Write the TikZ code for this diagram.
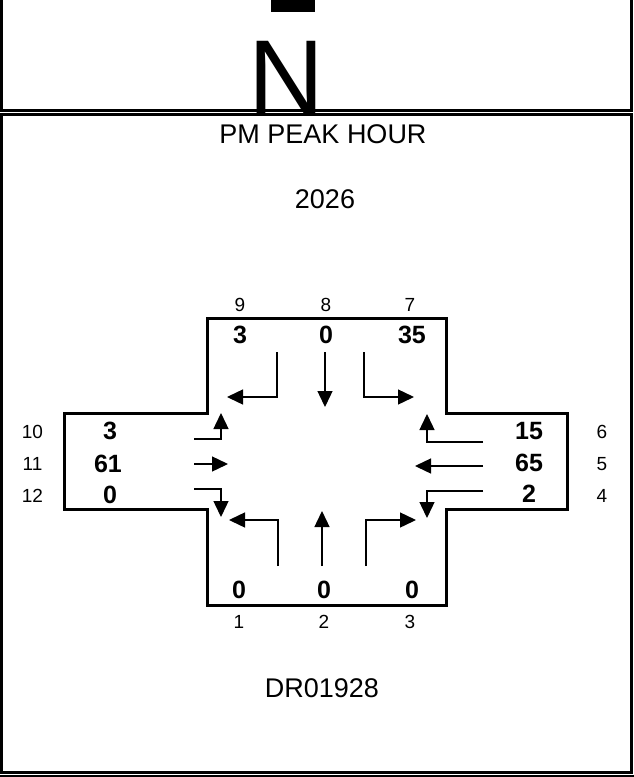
\documentclass[tikz,border=0pt]{standalone}
\usepackage{fontspec}
\setmainfont{Liberation Sans}
\usetikzlibrary{arrows.meta}
\tikzset{
  frame/.style={draw=black,line width=3pt},
  road/.style={draw=black,line width=3pt,line join=miter},
  mvt/.style={-{Triangle[length=16pt,width=15pt]},line width=1.4pt,line join=miter},
  lbl/.style={font=\fontsize{19}{19}\selectfont,anchor=base,inner sep=0pt},
  vol/.style={font=\fontsize{25}{25}\selectfont\bfseries,anchor=base,inner sep=0pt},
  title/.style={font=\fontsize{27}{27}\selectfont,anchor=base,inner sep=0pt}
}
\begin{document}
\begin{tikzpicture}[x=1pt,y=-1pt]
  \useasboundingbox (0,0) rectangle (634,777);
  % north arrow
  \fill (271,-2) rectangle (315,12);
  \node[anchor=base,inner sep=0pt,font=\fontsize{105}{105}\selectfont] (north) at (286,113) {N};
  \draw[frame] (1.5,-3) -- (1.5,110.5) -- (631.5,110.5) -- (631.5,-3);
  \draw[frame,fill=white] (1.5,114.5) rectangle (631.5,772);
  \draw[line width=2pt] (0,775.5) -- (634,775.5);

  \node[title] (peak) at (323,143) {PM PEAK HOUR};
  \node[title] (year) at (325,208) {2026};
  \node[title] (job) at (322,697) {DR01928};

  % intersection
  \draw[road] (207,318) -- (446,318) -- (446,413.5) -- (567,413.5) -- (567,509)
    -- (446,509) -- (446,605) -- (207,605) -- (207,509) -- (64.5,509)
    -- (64.5,413.5) -- (207,413.5) -- cycle;

  % movement numbers
  \node[lbl] (m9) at (240,311) {9};
  \node[lbl] (m8) at (326,311) {8};
  \node[lbl] (m7) at (410,311) {7};
  \node[lbl] (m10) at (32.5,438) {10};
  \node[lbl] (m11) at (32.5,470) {11};
  \node[lbl] (m12) at (32.5,502) {12};
  \node[lbl] (m6) at (602,438) {6};
  \node[lbl] (m5) at (602,470) {5};
  \node[lbl] (m4) at (602,502) {4};
  \node[lbl] (m1) at (239,628) {1};
  \node[lbl] (m2) at (324,628) {2};
  \node[lbl] (m3) at (410,628) {3};

  % volumes
  \node[vol] (v9) at (240,343) {3};
  \node[vol] (v8) at (326,343) {0};
  \node[vol] (v7) at (412,343) {35};
  \node[vol] (v10) at (110,439) {3};
  \node[vol] (v11) at (108,472) {61};
  \node[vol] (v12) at (110,503) {0};
  \node[vol] (v6) at (529,439) {15};
  \node[vol] (v5) at (529,471) {65};
  \node[vol] (v4) at (529,502) {2};
  \node[vol] (v1) at (239,598) {0};
  \node[vol] (v2) at (324,598) {0};
  \node[vol] (v3) at (412,598) {0};

  % southbound
  \draw[mvt] (277,352) -- (277,397) -- (227,397);
  \draw[mvt] (325,352) -- (325,407);
  \draw[mvt] (364,352) -- (364,397) -- (414,397);
  % eastbound
  \draw[mvt] (194,439) -- (221,439) -- (221,413);
  \draw[mvt] (194,464) -- (228,464);
  \draw[mvt] (194,489) -- (221,489) -- (221,517);
  % westbound
  \draw[mvt] (483,442) -- (427,442) -- (427,414);
  \draw[mvt] (483,466) -- (415,466);
  \draw[mvt] (483,491) -- (427,491) -- (427,518);
  % northbound
  \draw[mvt] (278,566) -- (278,520) -- (229,520);
  \draw[mvt] (322,566) -- (322,511);
  \draw[mvt] (366,566) -- (366,520) -- (416,520);
\end{tikzpicture}
\end{document}
